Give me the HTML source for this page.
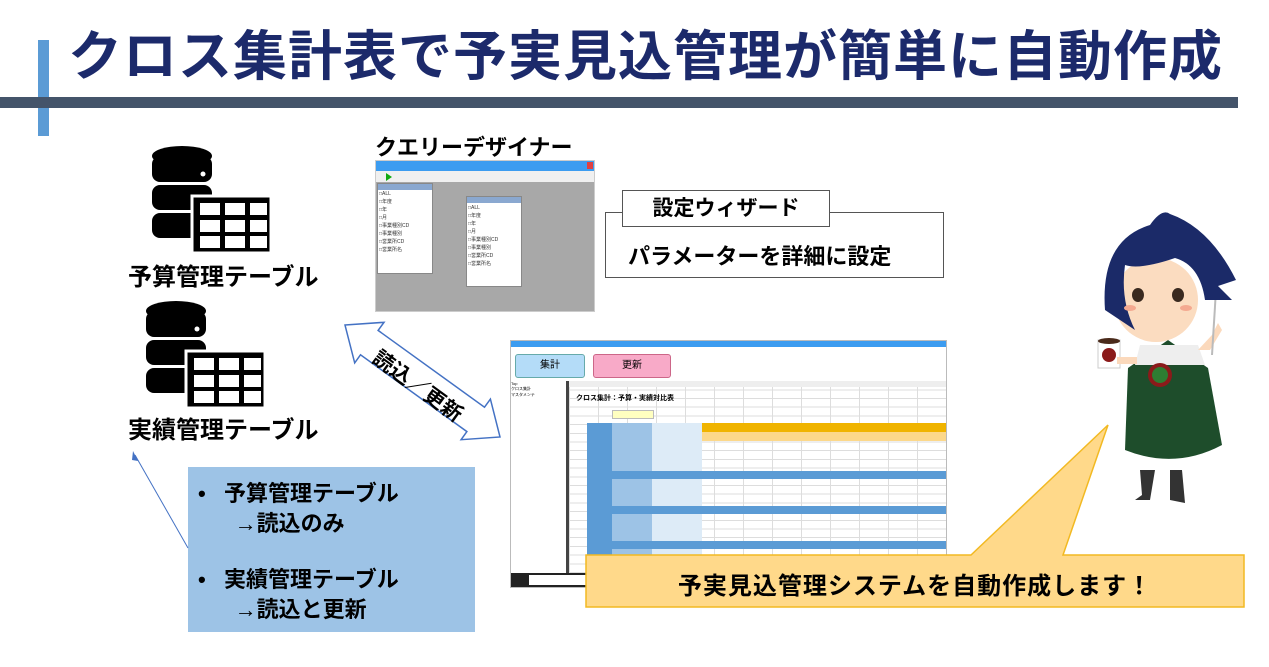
<!DOCTYPE html>
<html><head><meta charset="utf-8"><style>
body{margin:0;width:1269px;height:667px;background:#fff;position:relative;overflow:hidden;font-family:"Liberation Sans","Noto Sans CJK JP",sans-serif}
.a{position:absolute}
.jp{font-family:"Liberation Sans","Noto Sans CJK JP",sans-serif;font-weight:bold;color:#000;white-space:nowrap}
</style></head><body>
<!-- header -->
<div class="a" style="left:38px;top:40px;width:11px;height:96px;background:#5b9bd5"></div>
<div class="a" style="left:0;top:97px;width:1238px;height:11px;background:#44546a"></div>
<div class="a jp" style="left:68px;top:12px;font-size:54px;color:#1c2a6b;letter-spacing:1px">クロス集計表で予実見込管理が簡単に自動作成</div>

<!-- DB icons -->
<svg class="a" style="left:140px;top:140px" width="140" height="280" viewBox="0 0 140 280">
<g id="db">
<ellipse cx="42" cy="16" rx="30" ry="10" fill="#000"/>
<rect x="12" y="16" width="60" height="26" rx="8" fill="#000"/>
<rect x="12" y="45" width="60" height="25" rx="8" fill="#000"/>
<rect x="12" y="73" width="60" height="25" rx="8" fill="#000"/>
<circle cx="63" cy="34" r="2.5" fill="#fff"/><circle cx="63" cy="59" r="2.5" fill="#fff"/><circle cx="63" cy="85" r="2.5" fill="#fff"/>
<rect x="52" y="56" width="79" height="57" fill="#000" stroke="#fff" stroke-width="3"/>
<g fill="#fff">
<rect x="60" y="63" width="20" height="12"/><rect x="85" y="63" width="20" height="12"/><rect x="110" y="63" width="17" height="12"/>
<rect x="60" y="80" width="20" height="12"/><rect x="85" y="80" width="20" height="12"/><rect x="110" y="80" width="17" height="12"/>
<rect x="60" y="96" width="20" height="12"/><rect x="85" y="96" width="20" height="12"/><rect x="110" y="96" width="17" height="12"/>
</g></g>
<use href="#db" transform="translate(-6,155)"/>
</svg>
<div class="a jp" style="left:128px;top:257px;font-size:24px">予算管理テーブル</div>
<div class="a jp" style="left:128px;top:410px;font-size:24px">実績管理テーブル</div>

<!-- query designer -->
<div class="a jp" style="left:375px;top:130px;font-size:22px">クエリーデザイナー</div>
<div class="a" style="left:375px;top:160px;width:218px;height:150px;background:#a8a8a8;border:1px solid #ccc">
 <div class="a" style="left:0;top:0;width:218px;height:10px;background:#3c9cf0"></div>
 <div class="a" style="left:211px;top:1px;width:6px;height:7px;background:#e04040"></div>
 <div class="a" style="left:0;top:10px;width:218px;height:11px;background:#f0f0f0"></div>
 <div class="a" style="left:10px;top:12px;width:0;height:0;border-left:6px solid #1a1;border-top:4px solid transparent;border-bottom:4px solid transparent"></div>
 <div class="a" style="left:1px;top:22px;width:54px;height:89px;background:#fff;border:1px solid #888"><div style="height:6px;background:#8aa8d0"></div></div>
 <div class="a" style="left:90px;top:35px;width:54px;height:89px;background:#fff;border:1px solid #888"><div style="height:6px;background:#8aa8d0"></div></div>
</div>
<div class="a" style="left:379px;top:190px;font-size:5px;line-height:8px;color:#333">□ALL<br>□年度<br>□年<br>□月<br>□事業種別CD<br>□事業種別<br>□営業所CD<br>□営業所名</div>
<div class="a" style="left:468px;top:204px;font-size:5px;line-height:8px;color:#333">□ALL<br>□年度<br>□年<br>□月<br>□事業種別CD<br>□事業種別<br>□営業所CD<br>□営業所名</div>

<!-- wizard -->
<div class="a" style="left:605px;top:212px;width:337px;height:64px;border:1px solid #555;background:#fff"></div>
<div class="a jp" style="left:622px;top:190px;width:206px;height:35px;border:1px solid #555;background:#fff;font-size:21px;text-align:center;line-height:35px">設定ウィザード</div>
<div class="a jp" style="left:628px;top:239px;font-size:22px">パラメーターを詳細に設定</div>

<!-- double arrow -->
<svg class="a" style="left:0;top:0" width="1269" height="667">
<polygon points="345,325 384,322.3 378.1,330.4 484.5,407.2 490.4,399.1 500,437 461.1,439.7 466.9,431.6 360.5,354.8 354.7,362.9" fill="#fff" stroke="#4472c4" stroke-width="1.5"/>
</svg>
<div class="a jp" style="left:357px;top:374px;width:120px;text-align:center;font-size:21px;line-height:26px;transform:rotate(36deg)">読込／更新</div>

<!-- spreadsheet -->
<div class="a" style="left:510px;top:340px;width:435px;height:246px;background:#fff;border:1px solid #bbb;overflow:hidden">
 <div class="a" style="left:0;top:0;width:435px;height:6px;background:#3c9cf0"></div>
 <div class="a" style="left:4px;top:13px;width:68px;height:22px;background:#b4dcf8;border:1px solid #6aa;border-radius:3px;font-size:10px;text-align:center;line-height:22px" >集計</div>
 <div class="a" style="left:82px;top:13px;width:76px;height:22px;background:#f8aac8;border:1px solid #c68;border-radius:3px;font-size:10px;text-align:center;line-height:22px">更新</div>
 <div class="a" style="left:0;top:40px;width:55px;height:192px;border-right:3px solid #444;font-size:4px">Top<br>クロス集計<br>マスタメンテ</div>
 <div class="a" style="left:58px;top:40px;width:377px;height:6px;background:#eee"></div>
 <div class="a" style="left:58px;top:46px;width:377px;height:186px;background-color:#fff;background-image:repeating-linear-gradient(0deg,#ddd 0 1px,transparent 1px 8.7px),repeating-linear-gradient(90deg,#ddd 0 1px,transparent 1px 29px)"></div>
 <div class="a" style="left:65px;top:52px;font-size:7px;font-weight:bold">クロス集計：予算・実績対比表</div>
 <div class="a" style="left:101px;top:69px;width:40px;height:7px;background:#ffffc0;border:1px solid #bbb"></div>
 <div class="a" style="left:76px;top:82px;width:115px;height:140px;background:#9dc3e6"></div>
 <div class="a" style="left:76px;top:82px;width:25px;height:140px;background:#5b9bd5"></div>
 <div class="a" style="left:141px;top:82px;width:50px;height:140px;background:#ddebf7"></div>
 <div class="a" style="left:191px;top:82px;width:244px;height:9px;background:#f0b400"></div>
 <div class="a" style="left:191px;top:91px;width:244px;height:9px;background:#fcd88a"></div>
 <div class="a" style="left:76px;top:130px;width:359px;height:8px;background:#5b9bd5"></div>
 <div class="a" style="left:76px;top:165px;width:359px;height:8px;background:#5b9bd5"></div>
 <div class="a" style="left:76px;top:200px;width:359px;height:8px;background:#5b9bd5"></div>
 <div class="a" style="left:0;top:232px;width:435px;height:14px;background:#222"></div>
 <div class="a" style="left:18px;top:234px;width:70px;height:10px;background:#fff"></div>
</div>

<!-- blue box -->
<div class="a" style="left:188px;top:467px;width:287px;height:165px;background:#9dc3e6"></div>
<div class="a jp" style="left:198px;top:479px;font-size:22px;line-height:30px">•&nbsp;&nbsp;&nbsp;予算管理テーブル<br>&nbsp;&nbsp;&nbsp;&nbsp;&nbsp;&nbsp;→読込のみ</div>
<div class="a jp" style="left:198px;top:565px;font-size:22px;line-height:30px">•&nbsp;&nbsp;&nbsp;実績管理テーブル<br>&nbsp;&nbsp;&nbsp;&nbsp;&nbsp;&nbsp;→読込と更新</div>
<svg class="a" style="left:0;top:0" width="1269" height="667">
<line x1="188" y1="548" x2="135" y2="455" stroke="#4472c4" stroke-width="1"/>
<polygon points="133,451 138,461 132,460" fill="#4472c4"/>
<!-- callout -->
<polygon points="586,555 971,555 1108,425 1063,555 1244,555 1244,607 586,607" fill="#ffd98a" stroke="#f2b922" stroke-width="1.5"/>
<!-- character -->
<g>
<path d="M1140,470 L1142,495 L1135,500 L1150,500 L1155,470 Z" fill="#333"/>
<path d="M1170,470 L1170,500 L1185,503 L1182,470 Z" fill="#333"/>
<path d="M1128,368 L1168,340 L1208,368 L1222,445 Q1175,470 1125,450 Z" fill="#1e4d2b"/>
<path d="M1140,345 L1198,345 L1205,365 L1135,365 Z" fill="#eee"/>
<circle cx="1160" cy="375" r="12" fill="#8b1a1a"/><circle cx="1160" cy="375" r="8" fill="#2e7d32"/>
<rect x="1098" y="340" width="22" height="28" fill="#fff" stroke="#ccc"/>
<ellipse cx="1109" cy="341" rx="11" ry="3" fill="#4a2a1a"/>
<circle cx="1109" cy="355" r="7" fill="#8b1a1a"/>
<rect x="1117" y="357" width="20" height="7" fill="#fbd9bc"/>
<path d="M1198,350 L1212,335 L1218,323 L1222,330 L1210,350 Z" fill="#fbd9bc"/>
<line x1="1216" y1="290" x2="1212" y2="355" stroke="#bbb" stroke-width="2"/>
<ellipse cx="1156" cy="300" rx="42" ry="42" fill="#fbdcc0"/>
<path d="M1105,310 Q1100,240 1150,225 Q1162,208 1170,214 Q1210,228 1236,280 L1218,286 L1232,300 L1205,300 Q1200,265 1175,258 Q1140,270 1125,265 Q1120,300 1135,330 Z" fill="#1b2a68"/>
<ellipse cx="1138" cy="295" rx="6" ry="7" fill="#3a2a20"/><ellipse cx="1178" cy="295" rx="6" ry="7" fill="#3a2a20"/>
<ellipse cx="1130" cy="308" rx="6" ry="3" fill="#f4a990"/><ellipse cx="1186" cy="308" rx="6" ry="3" fill="#f4a990"/>
</g>
</svg>
<div class="a jp" style="left:586px;top:566px;width:658px;text-align:center;font-size:24px;letter-spacing:1px">予実見込管理システムを自動作成します！</div>
</body></html>
